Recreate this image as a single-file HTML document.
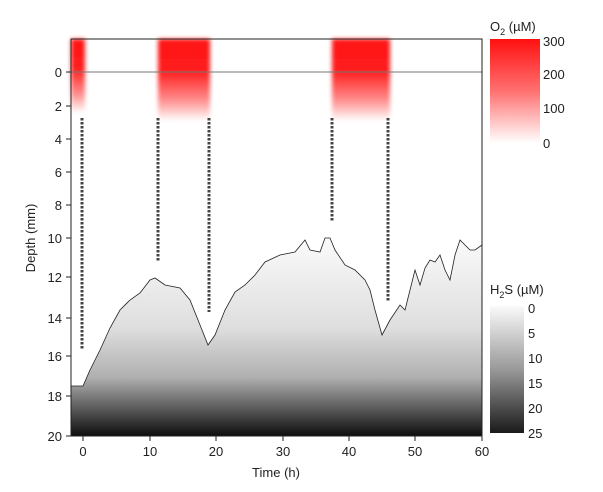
<!DOCTYPE html><html><head><style>body{margin:0;background:#fff}svg{font-family:"Liberation Sans",sans-serif}</style></head><body>
<svg width="603" height="487" xmlns="http://www.w3.org/2000/svg">
<defs>
<linearGradient id="g" gradientUnits="userSpaceOnUse" x1="0" y1="240" x2="0" y2="436"><stop offset="0" stop-color="#fafafa"/><stop offset="0.45" stop-color="#dedede"/><stop offset="0.7" stop-color="#b0b0b0"/><stop offset="0.87" stop-color="#555"/><stop offset="1" stop-color="#0d0d0d"/></linearGradient>
<linearGradient id="gs" x1="0" y1="0" x2="0" y2="1"><stop offset="0" stop-color="#fafafa"/><stop offset="0.5" stop-color="#999"/><stop offset="1" stop-color="#1a1a1a"/></linearGradient>
<linearGradient id="r" x1="0" y1="0" x2="0" y2="1"><stop offset="0" stop-color="#ff1010"/><stop offset="0.4" stop-color="#ff2020"/><stop offset="0.75" stop-color="#ff9090"/><stop offset="1" stop-color="#fff"/></linearGradient>
<linearGradient id="rb" x1="0" y1="0" x2="0" y2="1"><stop offset="0" stop-color="#ff1010"/><stop offset="0.5" stop-color="#ff7070"/><stop offset="1" stop-color="#fff"/></linearGradient>
<filter id="b"><feGaussianBlur stdDeviation="2"/></filter>
</defs>
<polygon fill="url(#g)" points="71,386 83,386 90,370 100,350 110,328 120,310 130,300 140,293 150,280 155,278 165,285 180,288 190,300 200,325 208,345 215,335 225,310 235,292 245,285 255,275 265,262 280,255 295,252 305,240 310,250 320,252 325,238 330,238 335,250 345,265 355,270 365,280 370,290 375,310 382,335 390,320 400,305 405,310 410,290 415,270 420,285 425,268 430,260 435,262 440,255 445,270 450,280 455,255 460,240 465,245 470,250 475,250 482,245 482,436 71,436"/>
<polyline fill="none" stroke="#222" stroke-width="0.8" points="71,386 83,386 90,370 100,350 110,328 120,310 130,300 140,293 150,280 155,278 165,285 180,288 190,300 200,325 208,345 215,335 225,310 235,292 245,285 255,275 265,262 280,255 295,252 305,240 310,250 320,252 325,238 330,238 335,250 345,265 355,270 365,280 370,290 375,310 382,335 390,320 400,305 405,310 410,290 415,270 420,285 425,268 430,260 435,262 440,255 445,270 450,280 455,255 460,240 465,245 470,250 475,250 482,245"/>
<g filter="url(#b)">
<rect x="71" y="39" width="14" height="74" fill="url(#r)"/>
<rect x="158" y="39" width="52" height="82" fill="url(#r)"/>
<rect x="332" y="39" width="58" height="82" fill="url(#r)"/>
</g>
<g stroke="#444" stroke-width="3" stroke-dasharray="2.5,1.5">
<line x1="82" y1="118" x2="82" y2="350"/><line x1="158" y1="118" x2="158" y2="262"/><line x1="209" y1="118" x2="209" y2="312"/><line x1="332" y1="118" x2="332" y2="222"/><line x1="388" y1="118" x2="388" y2="302"/>
</g>
<line x1="71" y1="72" x2="482" y2="72" stroke="#777"/>
<rect x="71" y="39" width="411" height="397" fill="none" stroke="#222"/>
<g stroke="#222"><line x1="66" y1="72" x2="71" y2="72"/><line x1="66" y1="106" x2="71" y2="106"/><line x1="66" y1="139" x2="71" y2="139"/><line x1="66" y1="172" x2="71" y2="172"/><line x1="66" y1="205" x2="71" y2="205"/><line x1="66" y1="238" x2="71" y2="238"/><line x1="66" y1="277" x2="71" y2="277"/><line x1="66" y1="318" x2="71" y2="318"/><line x1="66" y1="356" x2="71" y2="356"/><line x1="66" y1="396" x2="71" y2="396"/><line x1="66" y1="436" x2="71" y2="436"/>
<line x1="83" y1="436" x2="83" y2="441"/><line x1="150" y1="436" x2="150" y2="441"/><line x1="216" y1="436" x2="216" y2="441"/><line x1="283" y1="436" x2="283" y2="441"/><line x1="349" y1="436" x2="349" y2="441"/><line x1="415" y1="436" x2="415" y2="441"/><line x1="482" y1="436" x2="482" y2="441"/></g>
<g font-size="13" fill="#222" text-anchor="end">
<text x="62" y="77">0</text><text x="62" y="111">2</text><text x="62" y="144">4</text><text x="62" y="177">6</text><text x="62" y="210">8</text><text x="62" y="243">10</text><text x="62" y="282">12</text><text x="62" y="323">14</text><text x="62" y="361">16</text><text x="62" y="401">18</text><text x="62" y="441">20</text></g>
<g font-size="13" fill="#222" text-anchor="middle">
<text x="83" y="456">0</text><text x="150" y="456">10</text><text x="216" y="456">20</text><text x="283" y="456">30</text><text x="349" y="456">40</text><text x="415" y="456">50</text><text x="482" y="456">60</text>
<text x="276" y="477">Time (h)</text>
<text transform="translate(35,238) rotate(-90)">Depth (mm)</text></g>
<rect x="490" y="39" width="50" height="104" fill="url(#rb)"/>
<g font-size="13" fill="#222"><text x="543" y="46">300</text><text x="543" y="79">200</text><text x="543" y="113">100</text><text x="543" y="148">0</text>
<text x="490" y="31">O<tspan font-size="9" dy="4">2</tspan><tspan dy="-4"> (µM)</tspan></text>
<text x="490" y="294">H<tspan font-size="9" dy="4">2</tspan><tspan dy="-4">S (µM)</tspan></text></g>
<rect x="490" y="306" width="34" height="127" fill="url(#gs)"/>
<g font-size="13" fill="#222"><text x="528" y="313">0</text><text x="528" y="338">5</text><text x="528" y="363">10</text><text x="528" y="388">15</text><text x="528" y="413">20</text><text x="528" y="438">25</text></g>
</svg></body></html>
